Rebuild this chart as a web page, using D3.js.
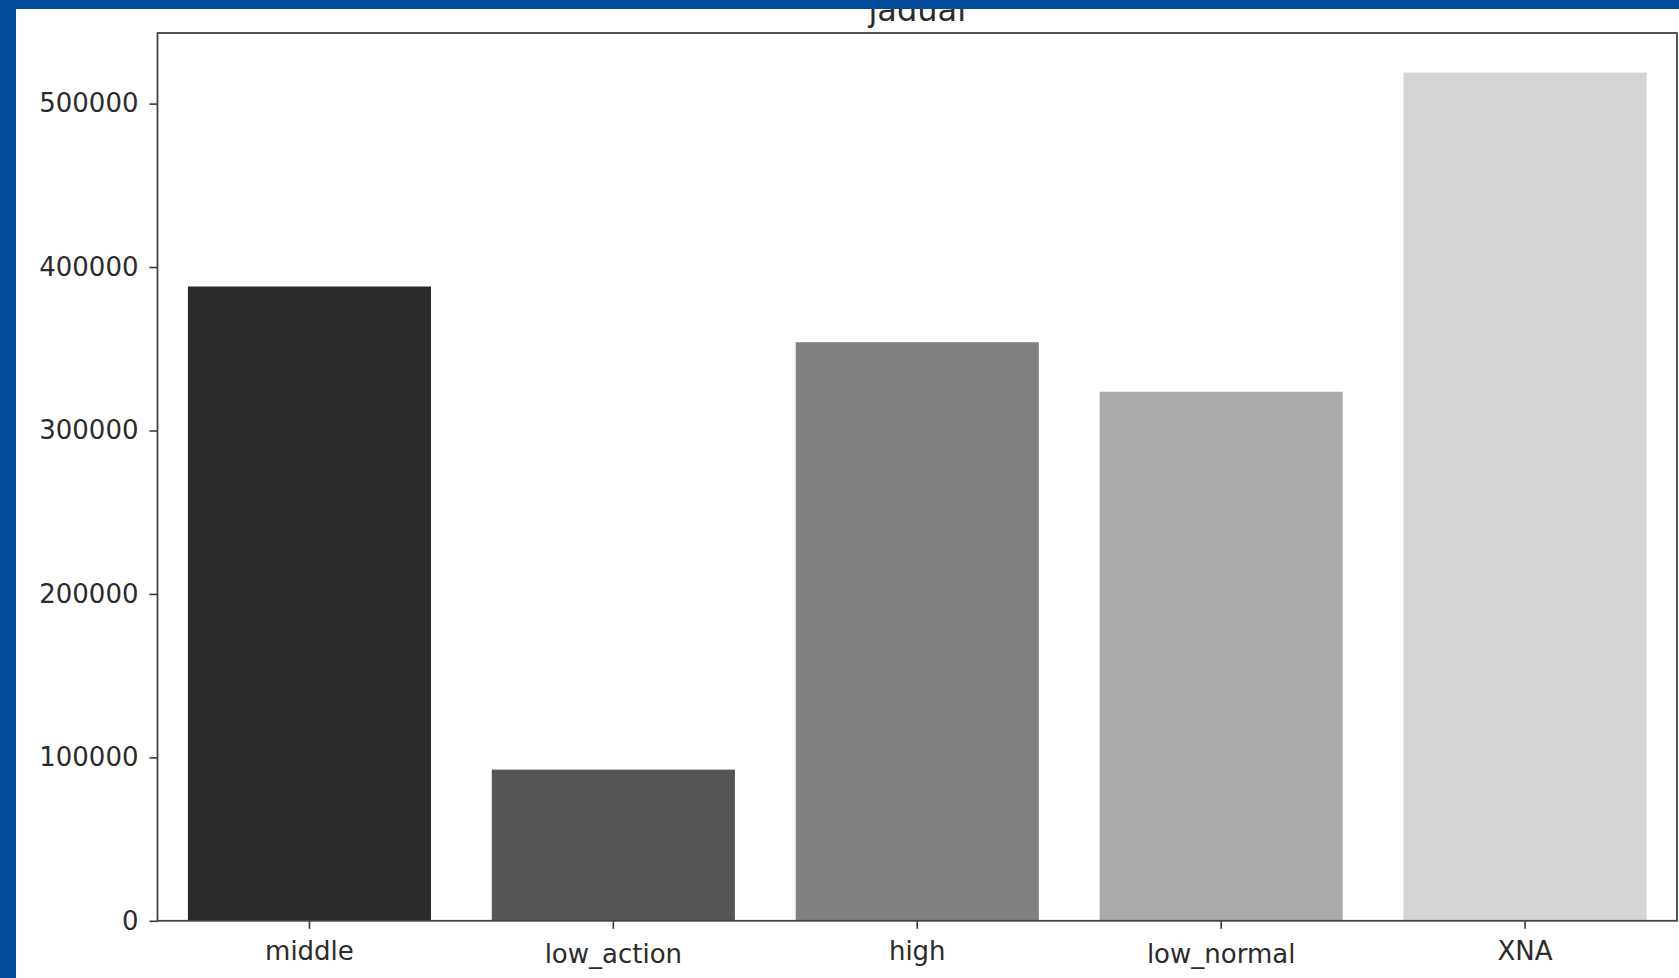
<!DOCTYPE html>
<html>
<head>
<meta charset="utf-8">
<script src="https://cdn.jsdelivr.net/npm/d3@7"></script>
<style>
  html, body { margin: 0; padding: 0; background: #ffffff; }
  svg { display: block; }
  text { font-family: "DejaVu Sans", sans-serif; }
</style>
</head>
<body>
<script>
// ---- data ----
const categories = ["middle", "low_action", "high", "low_normal", "XNA"];
const values = [388100, 92500, 354000, 323700, 519000];
const barColors = ["#2a2a2a", "#555555", "#808080", "#aaaaaa", "#d4d4d4"];
const yTicks = [0, 100000, 200000, 300000, 400000, 500000];
const yMax = 543200;
const title = "jadual";

// ---- layout ----
const W = 1679, H = 978;
const plot = { left: 157.5, right: 1677, top: 33, bottom: 920.8 };

const svg = d3.select("body").append("svg")
  .attr("width", W).attr("height", H);

svg.append("rect").attr("width", W).attr("height", H).attr("fill", "#ffffff");

const x = d3.scaleBand()
  .domain(categories)
  .range([plot.left, plot.right])
  .paddingInner(0.2)
  .paddingOuter(0.1);

const y = d3.scaleLinear()
  .domain([0, yMax])
  .range([plot.bottom, plot.top]);

// bars
svg.append("g").selectAll("rect")
  .data(categories)
  .join("rect")
  .attr("x", d => x(d))
  .attr("width", x.bandwidth())
  .attr("y", (d, i) => y(values[i]))
  .attr("height", (d, i) => y(0) - y(values[i]))
  .attr("fill", (d, i) => barColors[i]);

// y axis
const yAxis = d3.axisLeft(y)
  .tickValues(yTicks)
  .tickFormat(d3.format("d"))
  .tickSize(8)
  .tickPadding(11);
const gy = svg.append("g")
  .attr("transform", `translate(${plot.left},0)`)
  .call(yAxis);
gy.select(".domain").remove();
gy.selectAll(".tick line").attr("stroke", "#3a3a3a").attr("stroke-width", 1.6);
gy.selectAll(".tick text")
  .attr("fill", "#2b2b2b")
  .style("font-size", "26px");

// x axis
const xAxis = d3.axisBottom(x)
  .tickSize(8)
  .tickPadding(8);
const gx = svg.append("g")
  .attr("transform", `translate(0,${plot.bottom})`)
  .call(xAxis);
gx.select(".domain").remove();
gx.selectAll(".tick line").attr("stroke", "#3a3a3a").attr("stroke-width", 1.6);
gx.selectAll(".tick text")
  .attr("fill", "#2b2b2b")
  .style("font-size", "26px")
  .attr("dy", d => d.includes("_") ? "1.0em" : "0.88em");

// frame (spines)
svg.append("rect")
  .attr("x", plot.left).attr("y", plot.top)
  .attr("width", plot.right - plot.left)
  .attr("height", plot.bottom - plot.top)
  .attr("fill", "none")
  .attr("stroke", "#444444")
  .attr("stroke-width", 1.8);

// title (partly hidden under the blue band, as in the reference)
svg.append("text")
  .attr("x", (plot.left + plot.right) / 2)
  .attr("y", 21)
  .attr("text-anchor", "middle")
  .attr("fill", "#2b2b2b")
  .style("font-size", "32px")
  .text(title);

// blue border
svg.append("rect").attr("x", 0).attr("y", 0).attr("width", W).attr("height", 9).attr("fill", "#024c9b");
svg.append("rect").attr("x", 0).attr("y", 0).attr("width", 16).attr("height", H).attr("fill", "#024c9b");
</script>
</body>
</html>
